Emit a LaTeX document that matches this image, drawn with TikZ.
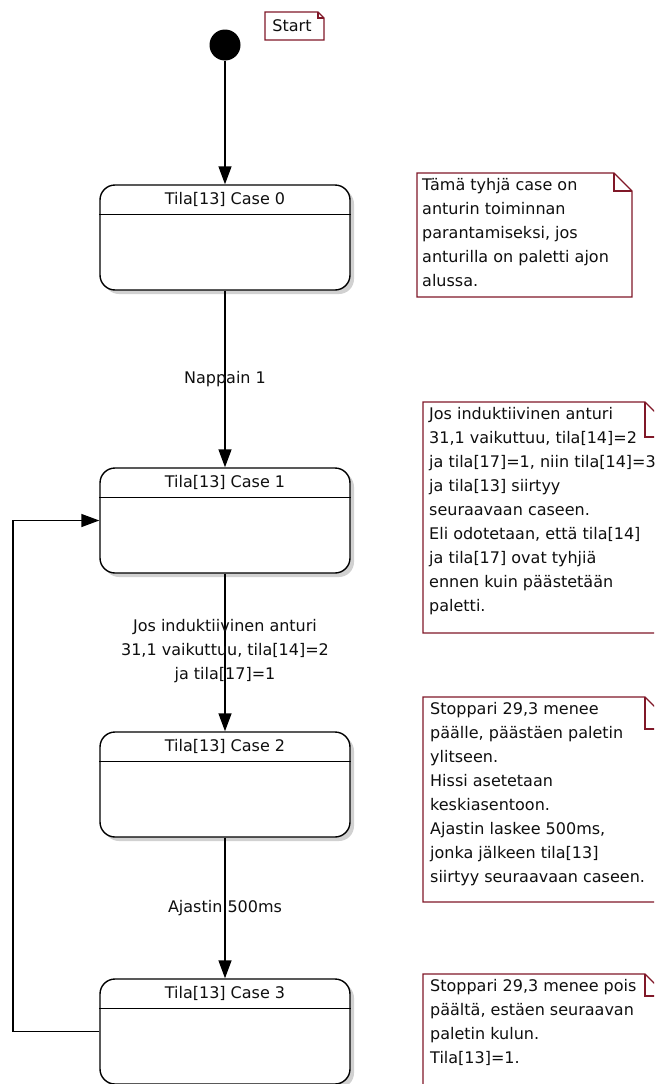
\documentclass[tikz,border=0pt]{standalone}
\usepackage{fontspec}
\setmainfont{DejaVu Sans}
\usetikzlibrary{arrows.meta,calc,shadows}

\definecolor{notered}{RGB}{128,24,40}
\definecolor{inktext}{RGB}{15,15,15}

\tikzset{
  txt/.style={font=\fontsize{16}{24}\selectfont, text=inktext, inner sep=0pt},
  statebox/.style={draw=black, line width=1.4pt, rounded corners=15pt,
    minimum width=250pt, minimum height=105pt, fill=white,
    drop shadow={shadow xshift=4pt, shadow yshift=-4pt, fill=black!18, opacity=1}},
  statetitle/.style={txt, anchor=center},
  divider/.style={draw=black, line width=1.4pt},
  trans/.style={draw=black, line width=1.4pt, -{Triangle[length=18pt,width=13pt]}},
  translabel/.style={txt, align=center},
  noteframe/.style={draw=notered, line width=1.2pt, fill=white, line join=miter},
  notetext/.style={txt, align=left, anchor=north west},
}

% a UML note: corners (x1,y1) and (x2,y2), folded corner of size d
\newcommand{\umlnote}[5]{%
  \path[noteframe] (#1,#2) -- ({#3-#5},#2) -- (#3,{#2+#5}) -- (#3,#4) -- (#1,#4) -- cycle;
  \draw[notered, line width=1.2pt] ({#3-#5},#2) -- ({#3-#5},{#2+#5}) -- (#3,{#2+#5});
}

\begin{document}
\begin{tikzpicture}[x=1pt,y=-1pt]
  \useasboundingbox (0,0) rectangle (654,1084);
  \clip (0,0) rectangle (654,1084);
  \fill[white] (0,0) rectangle (654,1084);

  % initial pseudo-state and its label note
  \node[circle, fill=black, minimum size=31pt, inner sep=0pt] (init) at (225,45) {};
  \umlnote{265}{12}{324}{40}{6}
  \node[txt] (startlbl) at (292,26) {Start};

  % states
  \foreach \i/\yc in {0/237.5, 1/520.5, 2/784.5, 3/1031.5} {
    \node[statebox] (s\i) at (225,\yc) {};
    \draw[divider] ($(s\i.north west)+(0,30)$) -- ($(s\i.north east)+(0,30)$);
    \node[statetitle] (t\i) at ($(s\i.north)+(0,15.5)$) {Tila[13] Case \i};
  }

  % transitions
  \draw[trans] (init) -- (s0);
  \draw[trans] (s0) -- node[translabel] (l1) {Nappain 1} (s1);
  \draw[trans] (s1) -- node[translabel, yshift=1pt] (l2)
    {Jos induktiivinen anturi\\31,1 vaikuttuu, tila[14]=2\\ja tila[17]=1} (s2);
  \draw[trans] (s2) -- node[translabel] (l3) {Ajastin 500ms} (s3);

  % loop back from Case 3 to Case 1
  \coordinate (loopx) at (13,0);
  \draw[trans] (s3.west) -- (s3.west -| loopx) -- (s1.west -| loopx) -- (s1.west);

  % notes
  \umlnote{417}{173}{632}{297}{18}
  \node[notetext] (n1) at (422,178)
    {Tämä tyhjä case on\\anturin toiminnan\\parantamiseksi, jos\\anturilla on paletti ajon\\alussa.};

  \umlnote{423}{402}{680}{633}{35}
  \node[notetext] (n2) at (429,407)
    {Jos induktiivinen anturi\\31,1 vaikuttuu, tila[14]=2\\ja tila[17]=1, niin tila[14]=3\\ja tila[13] siirtyy\\seuraavaan caseen.\\Eli odotetaan, että tila[14]\\ja tila[17] ovat tyhjiä\\ennen kuin päästetään\\paletti.};

  \umlnote{423}{697}{677}{902}{32}
  \node[notetext] (n3) at (430,702)
    {Stoppari 29,3 menee\\päälle, päästäen paletin\\ylitseen.\\Hissi asetetaan\\keskiasentoon.\\Ajastin laskee 500ms,\\jonka jälkeen tila[13]\\siirtyy seuraavaan caseen.};

  \umlnote{423}{974}{667}{1100}{22}
  \node[notetext] (n4) at (430,979)
    {Stoppari 29,3 menee pois\\päältä, estäen seuraavan\\paletin kulun.\\Tila[13]=1.};
\end{tikzpicture}
\end{document}
